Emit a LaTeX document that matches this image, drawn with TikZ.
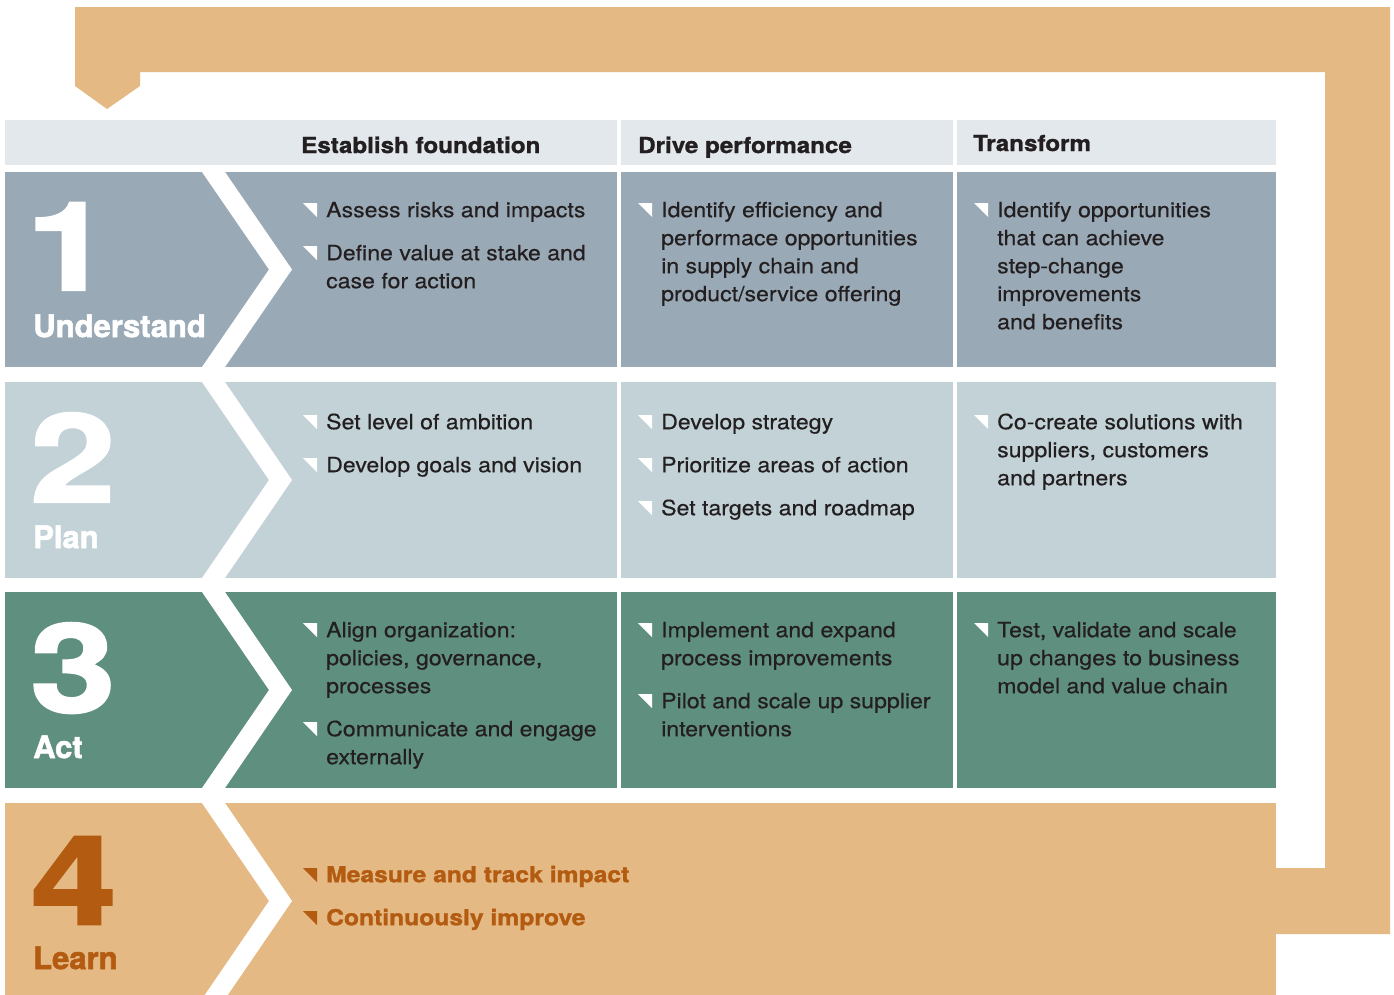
\documentclass[tikz,border=0pt]{standalone}
\usepackage{fontspec}
\setmainfont{TeX Gyre Heros}
\newfontfamily\bodyfont{texgyreheros-regular.otf}[FakeStretch=1.1,FakeBold=0.4]
\newfontfamily\headfont{texgyreheros-bold.otf}[FakeStretch=1.1,FakeBold=1.2]
\newfontfamily\learnfont{texgyreheros-bold.otf}[FakeStretch=1.12,FakeBold=1.2]
\newfontfamily\numfont{texgyreheros-bold.otf}[FakeStretch=1.25,FakeBold=2]
\newfontfamily\labfont{texgyreheros-bold.otf}[FakeBold=1.8]
\definecolor{bandc}{HTML}{E4B983}
\definecolor{headc}{HTML}{E3E8EC}
\definecolor{rowa}{HTML}{99A9B5}
\definecolor{rowb}{HTML}{C2D2D7}
\definecolor{rowc}{HTML}{5F8F7E}
\definecolor{brownc}{HTML}{B35B10}
\definecolor{textc}{HTML}{231F20}
\tikzset{
  bodytext/.style={inner sep=0pt, align=left, text=textc, font={\bodyfont\fontsize{21}{28}\selectfont}},
  learntext/.style={inner sep=0pt, align=left, text=brownc, font={\learnfont\fontsize{22}{28}\selectfont}},
  headtext/.style={inner sep=0pt, anchor=base west, text=textc, font={\headfont\fontsize{22}{28}\selectfont}},
  numtext/.style={inner sep=0pt, anchor=base west, text height=88pt, text depth=0pt, font={\numfont\fontsize{123}{130}\selectfont}},
  labtext/.style={inner sep=0pt, anchor=base west, text height=23pt, text depth=0pt, font={\labfont\fontsize{31}{36}\selectfont}},
}
% #1 name, #2 x, #3 baseline, #4 bullet colour, #5 style, #6 text
\newcommand\bitem[6]{%
  \fill[#4] (#2-23,#3-14) -- (#2-9,#3-14) -- (#2-9,#3) -- cycle;
  \node[#5, anchor=north west] (#1) at (#2,#3-19.6) {\strut #6};
}
% #1 top, #2 bottom
\newcommand\chev[2]{%
  \fill[white] (202,#1) -- (269,{(#1+#2)/2}) -- (202,#2) -- (225,#2) -- (292,{(#1+#2)/2}) -- (225,#1) -- cycle;
}
\begin{document}
\begin{tikzpicture}[x=1pt,y=-1pt]
\useasboundingbox (0,0) rectangle (1394,994);
\clip (0,0) rectangle (1394,994);
\fill[white] (0,0) rectangle (1394,994);
% loop band
\fill[bandc] (75,7) -- (1390,7) -- (1390,934) -- (1276,934) -- (1276,868) -- (1325,868)
  -- (1325,72) -- (140,72) -- (140,86) -- (107,109) -- (75,86) -- cycle;
% header
\fill[headc] (5,120) rectangle (617,165);
\fill[headc] (621,120) rectangle (953,165);
\fill[headc] (957,120) rectangle (1276,165);
% rows 1-3
\foreach \t/\b/\c in {172/367/rowa, 382/578/rowb, 592/788/rowc}{
  \fill[\c] (5,\t) rectangle (617,\b);
  \fill[\c] (621,\t) rectangle (953,\b);
  \fill[\c] (957,\t) rectangle (1276,\b);
  \chev{\t}{\b}
}
% row 4
\fill[bandc] (5,803) rectangle (1276,999);
\chev{803}{999}

% headers
\node[headtext] (h1) at (301,153) {Establish foundation};
\node[headtext] (h2) at (638,153) {Drive performance};
\node[headtext] (h3) at (973,151) {Transform};

% left labels
\node[numtext, text=white] (n1) at (26,290) {1};
\node[labtext, text=white] (l1) at (33,337) {Understand};
\node[numtext, text=white] (n2) at (30,502) {2};
\node[labtext, text=white] (l2) at (33,548) {Plan};
\node[numtext, text=white] (n3) at (30,712) {3};
\node[labtext, text=white] (l3) at (33,758) {Act};
\node[numtext, text=brownc] (n4) at (31,924) {4};
\node[labtext, text=brownc] (l4) at (33,969) {Learn};

% row 1
\bitem{a11}{326}{217}{white}{bodytext}{Assess risks and impacts}
\bitem{a12}{326}{260}{white}{bodytext}{Define value at stake and\\case for action}
\bitem{a21}{661}{217}{white}{bodytext}{Identify efficiency and\\performace opportunities\\in supply chain and\\product/service offering}
\bitem{a31}{997}{217}{white}{bodytext}{Identify opportunities\\that can achieve\\step-change\\improvements\\and benefits}
% row 2
\bitem{b11}{326}{429}{white}{bodytext}{Set level of ambition}
\bitem{b12}{326}{472}{white}{bodytext}{Develop goals and vision}
\bitem{b21}{661}{429}{white}{bodytext}{Develop strategy}
\bitem{b22}{661}{472}{white}{bodytext}{Prioritize areas of action}
\bitem{b23}{661}{515}{white}{bodytext}{Set targets and roadmap}
\bitem{b31}{997}{429}{white}{bodytext}{Co-create solutions with\\suppliers, customers\\and partners}
% row 3
\bitem{c11}{326}{637}{white}{bodytext}{Align organization:\\policies, governance,\\processes}
\bitem{c12}{326}{736}{white}{bodytext}{Communicate and engage\\externally}
\bitem{c21}{661}{637}{white}{bodytext}{Implement and expand\\process improvements}
\bitem{c22}{661}{708}{white}{bodytext}{Pilot and scale up supplier\\interventions}
\bitem{c31}{997}{637}{white}{bodytext}{Test, validate and scale\\up changes to business\\model and value chain}
% row 4
\bitem{d11}{326}{882}{brownc}{learntext}{Measure and track impact}
\bitem{d12}{326}{925}{brownc}{learntext}{Continuously improve}
\end{tikzpicture}
\end{document}
